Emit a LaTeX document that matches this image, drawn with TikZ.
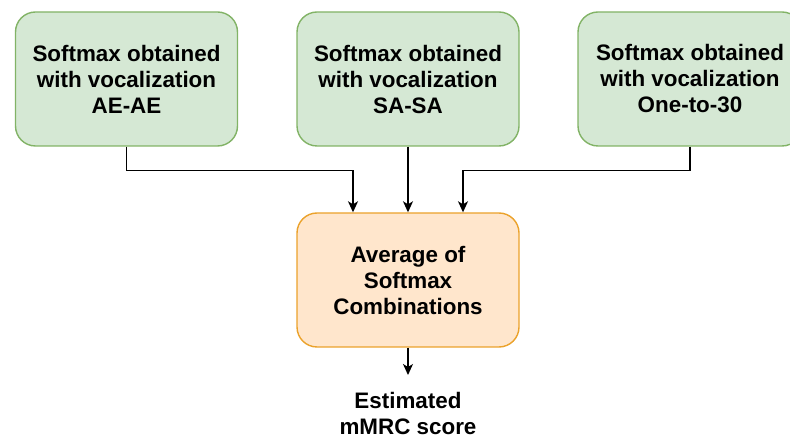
\documentclass[tikz,border=0pt]{standalone}
\usepackage{fontspec}
\setmainfont{Liberation Sans}
\usetikzlibrary{arrows.meta}
\definecolor{greenfill}{HTML}{D5E8D4}
\definecolor{greenline}{HTML}{82B366}
\definecolor{orangefill}{HTML}{FFE6CC}
\definecolor{orangeline}{HTML}{EBA22B}
\tikzset{
  x=1pt, y=1pt,
  box/.style={rounded corners=20pt, line width=1.4pt, minimum width=222pt,
    minimum height=134pt, align=center, inner sep=0pt,
    font=\bfseries\fontsize{22.4}{26}\selectfont},
  srcbox/.style={box, fill=greenfill, draw=greenline},
  avgbox/.style={box, fill=orangefill, draw=orangeline},
  lbl/.style={align=center, inner sep=0pt, font=\bfseries\fontsize{22.4}{26}\selectfont},
  arr/.style={line width=1.3pt, -{Stealth[length=11pt,width=10pt,inset=3pt]}}
}
\begin{document}
\begin{tikzpicture}
\useasboundingbox (0,0) rectangle (790,439);
\clip (0,0) rectangle (790,439);
% source boxes
\node[srcbox] (ae) at (126.5,360) {Softmax obtained\\with vocalization\\AE-AE};
\node[srcbox] (sa) at (408,360) {Softmax obtained\\with vocalization\\SA-SA};
\node[srcbox, minimum width=224pt] (one) at (690,360) {Softmax obtained\\with vocalization\\One-to-30};
% combination box
\node[avgbox] (avg) at (408,159) {Average of\\Softmax\\Combinations};
% output label
\node[lbl] (out) at (408,26) {Estimated\\mMRC score};
\coordinate (tip) at (408,64);
% connectors
\draw[arr] (ae.south) -- ++(0,-24) -| ([xshift=-55pt]avg.north);
\draw[arr] (sa.south) -- (avg.north);
\draw[arr] (one.south) -- ++(0,-24) -| ([xshift=55pt]avg.north);
\draw[arr] (avg.south) -- (tip);
\end{tikzpicture}
\end{document}
